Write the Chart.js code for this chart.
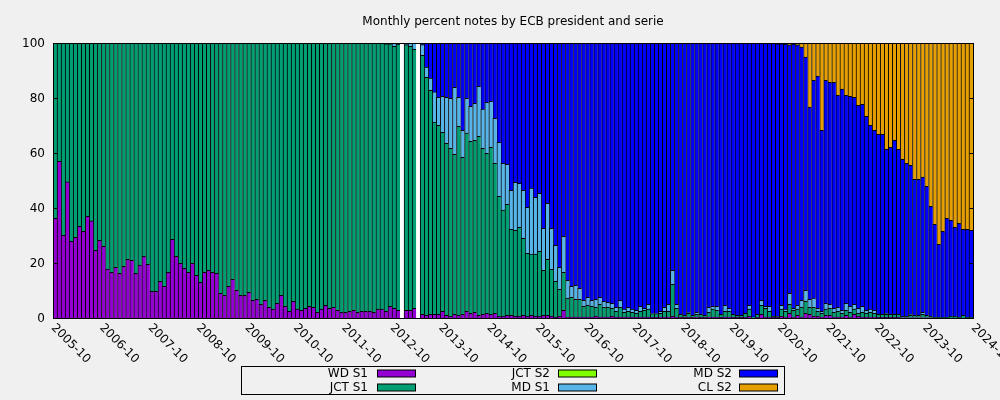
<!DOCTYPE html>
<html><head><meta charset="utf-8">
<script src="https://cdn.jsdelivr.net/npm/chart.js@4/dist/chart.umd.min.js"></script>
<style>html,body{margin:0;padding:0;background:#f0f0f0;}canvas{display:block;}</style>
</head><body>
<canvas id="c" width="1000" height="400"></canvas>
<script>
const titleText = "Monthly percent notes by ECB president and serie";
const tickLabels = ["2005-10","2006-10","2007-10","2008-10","2009-10","2010-10","2011-10","2012-10","2013-10","2014-10",
  "2015-10","2016-10","2017-10","2018-10","2019-10","2020-10","2021-10","2022-10","2023-10","2024-10"];
const yTicks = [0, 20, 40, 60, 80, 100];
const seriesNames = ["WD S1", "JCT S1", "JCT S2", "MD S1", "MD S2", "CL S2"];
const seriesColors = ["#9400d3", "#009e73", "#7fff00", "#56b4e9", "#0000ff", "#e69f00"];

// monthly categories, 2005-10 .. 2024-09
const months = [];
for (let k = 0; k < 228; k++) {
  const m = 9 + k, y = 2005 + Math.floor(m / 12), mm = (m % 12) + 1;
  months.push(y + "-" + (mm < 10 ? "0" + mm : mm));
}

const wdS1 = [
36.2,57.0,30.1,49.5,27.9,29.3,33.3,31.5,37.0,35.3,24.6,28.2,
26.1,17.8,16.6,18.4,16.2,18.8,21.3,21.0,16.2,19.2,22.4,19.5,
9.7,9.7,13.3,11.5,16.6,28.6,22.4,19.9,18.1,16.6,19.9,15.5,
13.0,16.6,17.3,16.6,16.2,9.0,8.2,11.5,14.1,10.1,8.2,8.2,
9.3,6.4,6.8,5.0,6.4,3.9,3.2,5.3,8.2,4.2,2.4,6.1,
3.2,2.8,3.5,4.2,3.9,2.1,3.2,4.6,3.5,3.9,2.8,2.1,
2.1,2.4,2.8,2.1,2.4,2.4,2.4,2.1,3.2,3.2,2.4,4.2,
3.5,2.8,0,2.8,2.8,3.5,0,1.3,1.0,1.3,1.3,1.3,
2.4,1.0,0.6,1.3,1.0,1.3,2.4,1.7,2.1,1.0,1.3,1.7,
1.3,1.7,0.6,0.6,1.0,1.0,0.6,0.6,1.0,0.6,1.0,0.6,
0.6,1.0,1.0,0.6,0.2,0.6,2.8,0.3,0.3,0.3,0.3,0.3,
0.3,0.3,0.6,0.3,0.3,0.3,0.6,0.3,0.3,0.3,0.3,0.3,
0.3,0.3,0.3,0.3,0.2,0.2,0.3,0.3,0.3,0.6,0.3,0.2,
0.2,0.2,0.2,0.3,0.2,0.2,0.3,0.3,0.3,0.2,0.3,0.3,
0.2,0.2,0.2,0.2,0.6,0,0.2,1.3,0.3,0.3,0.2,0.2,
0.6,0.3,1.7,0.3,1.0,0.3,1.7,1.3,0.6,0.6,0.3,1.0,
1.0,0.3,0.3,0.3,1.0,0.3,1.3,0.6,0.3,0.3,0.3,0.3,
0.2,0.2,0.2,0.2,0.2,0.2,0.1,0.1,0.1,0.1,0.1,0.1,
0.1,0.1,0,0,0,0,0,0,0,0,0,0];

const jctS1 = [
63.8,43.0,69.9,50.5,72.1,70.7,66.7,68.5,63.0,64.7,75.4,71.8,
73.9,82.2,83.4,81.6,83.8,81.2,78.7,79.0,83.8,80.8,77.6,80.5,
90.3,90.3,86.7,88.5,83.4,71.4,77.6,80.1,81.9,83.4,80.1,84.5,
87.0,83.4,82.7,83.4,83.8,91.0,91.8,88.5,85.9,89.9,91.8,91.8,
90.7,93.6,93.2,95.0,93.6,96.1,96.8,94.7,91.8,95.8,97.6,93.9,
96.8,97.2,96.5,95.8,96.1,97.9,96.8,95.4,96.5,96.1,97.2,97.9,
97.9,97.6,97.2,97.9,97.6,97.6,97.6,97.9,96.8,96.8,97.3,95.5,
95.3,96.8,0,96.6,96.0,94.2,0,94.2,86.5,81.5,69.9,68.8,
65.1,62.5,61.1,58.2,68.7,57.1,64.8,62.5,62.5,65.1,60.4,58.2,
60.8,54.5,43.6,38.6,40.3,31.2,31.3,32.4,28.0,22.9,22.2,22.6,
23.6,16.3,20.3,17.1,13.1,9.8,13.8,6.9,7.2,6.5,6.5,3.9,
4.3,3.9,3.3,4.7,3.6,3.6,2.9,2.1,3.6,1.8,2.1,1.8,
1.4,2.1,2.5,2.9,1.4,1.4,1.4,2.1,2.1,11.6,3.2,1.1,
0.8,1.5,0.8,1.0,1.1,0.8,1.8,2.9,2.5,1.1,2.1,2.1,
1.1,0.8,0.8,1.5,2.6,0.4,1.1,3.3,3.2,2.1,0.4,0.4,
2.6,2.1,3.3,2.5,2.2,3.6,4.4,2.6,3.3,1.8,1.4,2.2,
2.5,1.8,2.1,1.4,1.8,1.8,1.9,1.1,1.8,1.4,1.8,1.4,
1.1,1.1,1.1,1.1,1.1,1.1,0.5,0.5,0.9,0.9,0.9,1.2,
0.9,0.5,0.2,0.2,0.2,0.2,0.6,0.6,0.2,1.0,0.2,0.2];

const jctS2 = [
0,0,0,0,0,0,0,0,0,0,0,0, 0,0,0,0,0,0,0,0,0,0,0,0,
0,0,0,0,0,0,0,0,0,0,0,0, 0,0,0,0,0,0,0,0,0,0,0,0,
0,0,0,0,0,0,0,0,0,0,0,0, 0,0,0,0,0,0,0,0,0,0,0,0,
0,0,0,0,0,0,0,0,0,0,0,0, 0,0,0,0,0,0,0,0,0,0,0,0,
0,0,0,0,0,0,0,0,0,0,0,0, 0,0,0,0,0,0,0,0,0,0,0,0,
0,0,0,0,0,0,0,0,0,0,0,0, 0,0,0,0,0,0,0,0,0,0,0,0,
0,0,0,0,0,0,0,0,0,0,0,0, 0,0,0,0,0,0,0,0,0,0,0,0,
0,0,0,0,0,0,0,0,0,0,0,0, 0,0,0,0,0,0,0,0,0,0,0,0,
0,0,0,0,0,0,0,0,0,0,0,0, 0,0,0,0,0,0,0,0,0,0,0,0,
0,0,0,0,0,0,0,0,0,0,0,0];

const mdS1 = [
0,0,0,0,0,0,0,0,0,0,0,0, 0,0,0,0,0,0,0,0,0,0,0,0,
0,0,0,0,0,0,0,0,0,0,0,0, 0,0,0,0,0,0,0,0,0,0,0,0,
0,0,0,0,0,0,0,0,0,0,0,0, 0,0,0,0,0,0,0,0,0,0,0,0,
0,0,0,0,0,0,0,0,0,0,0.3,0.3,
1.2,0.4,0,0.6,1.2,2.3,0,3.9,3.7,4.4,11.0,10.1,
13.1,16.7,18.2,24.4,10.5,9.8,12.7,12.8,13.5,18.1,14.3,18.5,
16.7,16.4,19.7,17.0,14.6,14.2,17.4,16.0,17.4,16.7,24.0,20.7,
21.1,15.3,20.4,14.9,13.1,8.0,13.1,6.5,4.0,5.1,4.0,2.2,
2.9,2.2,2.9,2.5,2.2,1.8,1.8,1.5,2.5,1.1,1.5,1.1,
1.1,1.8,0.7,1.8,0,0,0.7,1.5,2.6,5.1,1.5,0,
0,0.4,0,0.8,0,0,1.8,1.0,1.4,0,2.2,1.1,
0,0,0,0,1.4,0,0,1.8,0.7,1.8,0,0,
1.4,0.8,4.0,0.7,1.4,2.5,4.0,2.9,3.3,1.1,0.7,2.1,
1.5,1.4,1.5,1.1,2.5,2.1,1.8,1.8,2.1,1.1,1.1,1.1,
0.2,0,0.4,0,0,0,0,0,0.3,0,0,0.8,
0,0,0,0,0,0,0,0,0,0,0,0];

const mdS2 = [
0,0,0,0,0,0,0,0,0,0,0,0, 0,0,0,0,0,0,0,0,0,0,0,0,
0,0,0,0,0,0,0,0,0,0,0,0, 0,0,0,0,0,0,0,0,0,0,0,0,
0,0,0,0,0,0,0,0,0,0,0,0, 0,0,0,0,0,0,0,0,0,0,0,0,
0,0,0,0,0,0,0,0,0,0,0,0,
0,0,0,0,0,0,0,0.6,8.8,12.8,17.8,19.8,
19.4,19.8,20.1,16.1,19.8,31.8,20.1,23.0,21.9,15.8,24.0,21.6,
21.2,27.4,36.1,43.8,44.1,53.6,50.7,51.0,53.6,59.8,52.8,56.1,
54.7,67.4,58.3,67.4,73.6,81.6,70.3,86.3,88.5,88.1,89.2,93.6,
92.5,93.6,93.2,92.5,93.9,94.3,94.7,96.1,93.6,96.8,96.1,96.8,
97.2,95.8,96.5,95.0,98.4,98.4,97.6,96.1,95.0,82.7,95.0,98.7,
99.0,97.9,99.0,97.9,98.7,99.0,96.1,95.8,95.8,98.7,95.4,96.5,
98.7,99.0,99.0,98.3,95.4,99.6,98.7,93.6,95.8,95.8,99.4,99.1,
95.1,96.4,90.3,96.1,94.7,92.1,84.8,69.9,79.2,84.5,65.8,81.1,
80.7,82.2,77.1,80.4,75.7,76.4,75.2,73.8,73.5,70.5,66.9,65.4,
65.3,65.5,59.6,60.8,63.3,60.0,57.1,55.6,54.2,49.4,49.4,49.1,
46.9,40.0,33.9,26.6,31.3,36.0,34.9,32.4,34.2,31.2,32.0,31.7];

const clS2 = [
0,0,0,0,0,0,0,0,0,0,0,0, 0,0,0,0,0,0,0,0,0,0,0,0,
0,0,0,0,0,0,0,0,0,0,0,0, 0,0,0,0,0,0,0,0,0,0,0,0,
0,0,0,0,0,0,0,0,0,0,0,0, 0,0,0,0,0,0,0,0,0,0,0,0,
0,0,0,0,0,0,0,0,0,0,0,0, 0,0,0,0,0,0,0,0,0,0,0,0,
0,0,0,0,0,0,0,0,0,0,0,0, 0,0,0,0,0,0,0,0,0,0,0,0,
0,0,0,0,0,0,0,0,0,0,0,0, 0,0,0,0,0,0,0,0,0,0,0,0,
0,0,0,0,0,0,0,0,0,0,0,0, 0,0,0,0,0,0,0,0,0,0,0,0,
0,0,0,0,0,0,0,0,0,0,0,0.3,
0.3,0.4,0.7,0.4,0.7,1.5,5.1,23.3,13.6,12.0,31.8,13.6,
14.3,14.3,19.0,16.8,19.0,19.4,19.8,22.7,22.3,26.7,29.9,31.8,
33.2,33.2,38.7,37.9,35.4,38.7,42.3,43.8,44.5,49.6,49.6,48.8,
52.1,59.4,65.9,73.2,68.5,63.8,64.5,67.0,65.6,67.8,67.8,68.1];

const seriesData = [wdS1, jctS1, jctS2, mdS1, mdS2, clS2];
const FONT = '12px "DejaVu Sans"';

const decor = {
  id: 'decor',
  beforeDatasetsDraw(chart) {
    const {ctx, chartArea: a} = chart;
    ctx.save();
    ctx.fillStyle = '#ffffff';
    ctx.fillRect(a.left, a.top, a.right - a.left, a.bottom - a.top);
    ctx.restore();
  },
  afterDraw(chart) {
    const {ctx, chartArea: a, scales} = chart;
    const xs = scales.x, ys = scales.y;
    ctx.save();
    ctx.strokeStyle = '#000';
    ctx.lineWidth = 1;
    const L = Math.round(a.left) + 0.5, R = Math.round(a.right) + 0.5;
    const T = Math.round(a.top) + 0.5, B = Math.round(a.bottom) + 0.5;
    ctx.strokeRect(L, T, R - L, B - T);
    ctx.font = FONT;
    ctx.fillStyle = '#000';
    // y ticks
    ctx.textAlign = 'right';
    ctx.textBaseline = 'middle';
    yTicks.forEach(v => {
      const y = Math.round(ys.getPixelForValue(v)) + 0.5;
      ctx.beginPath();
      ctx.moveTo(L, y); ctx.lineTo(L + 4, y);
      ctx.moveTo(R, y); ctx.lineTo(R - 4, y);
      ctx.stroke();
      ctx.fillText(String(v), a.left - 8, y);
    });
    // x tick labels, rotated
    ctx.textAlign = 'left';
    ctx.textBaseline = 'middle';
    tickLabels.forEach(t => {
      let i = months.indexOf(t);
      if (i < 0) i = months.length;
      const x = xs.getPixelForValue(i - 0.5);
      ctx.save();
      ctx.translate(x, a.bottom + 8);
      ctx.rotate(Math.PI / 4);
      ctx.fillText(t, 0, 0);
      ctx.restore();
    });
    // title
    ctx.textAlign = 'center';
    ctx.fillText(titleText, (a.left + a.right) / 2, 22);
    // legend
    ctx.strokeRect(241.5, 366.5, 543, 28);
    const colText = [368, 550, 732];
    const colSw = [377, 558, 739];
    const rowY = [373.5, 387.5];
    ctx.textAlign = 'right';
    seriesNames.forEach((n, k) => {
      const c = Math.floor(k / 2), r = k % 2;
      ctx.fillStyle = '#000';
      ctx.fillText(n, colText[c], rowY[r]);
      ctx.fillStyle = seriesColors[k];
      ctx.fillRect(colSw[c], rowY[r] - 3.5, 38, 7);
      ctx.strokeRect(colSw[c] + 0.5, rowY[r] - 3.5, 38, 7);
    });
    ctx.restore();
  }
};

new Chart(document.getElementById('c'), {
  type: 'bar',
  data: {
    labels: months,
    datasets: seriesNames.map((n, k) => ({
      label: n,
      data: seriesData[k],
      backgroundColor: seriesColors[k],
      borderColor: '#000000',
      borderWidth: {top: 1, left: 1, right: 0, bottom: 0},
      borderSkipped: false,
      barPercentage: 1,
      categoryPercentage: 1
    }))
  },
  options: {
    responsive: false,
    animation: false,
    devicePixelRatio: 1,
    layout: {padding: {left: 53, right: 27, top: 43, bottom: 82}},
    plugins: {legend: {display: false}, title: {display: false}, tooltip: {enabled: false}},
    scales: {
      x: {stacked: true, display: false, offset: true},
      y: {stacked: true, display: false, min: 0, max: 100}
    }
  },
  plugins: [decor]
});
</script>
</body></html>
